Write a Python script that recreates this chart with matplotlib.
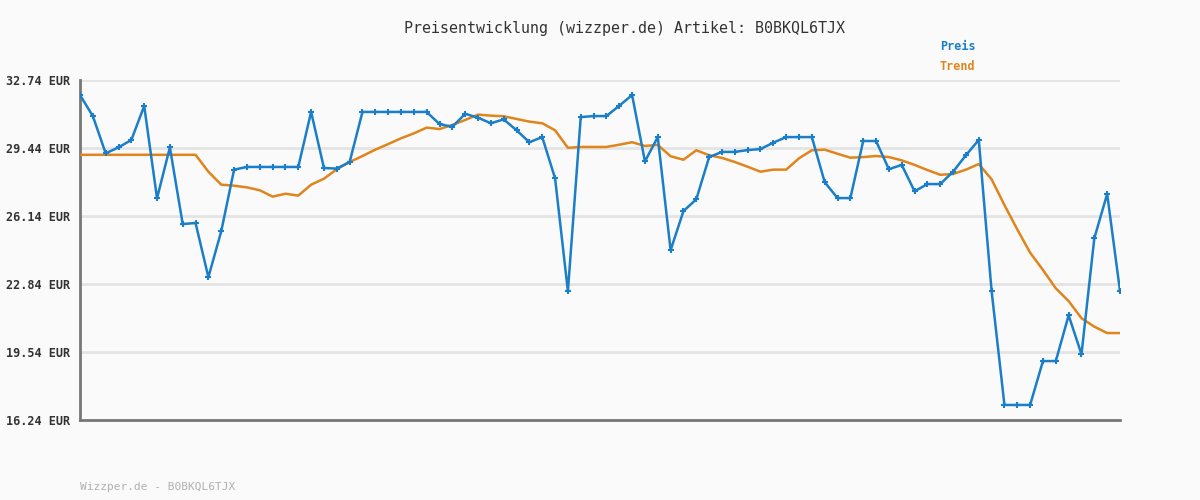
import matplotlib
matplotlib.use('Agg')
import numpy as np
import matplotlib.pyplot as plt

# price history (EUR), one value per sample
preis = [32.01, 30.99, 29.18, 29.47, 29.83, 31.48, 27.00, 29.47, 25.75, 25.80,
         23.17, 25.40, 28.39, 28.52, 28.52, 28.52, 28.52, 28.52, 31.19, 28.47,
         28.44, 28.76, 31.19, 31.19, 31.19, 31.19, 31.19, 31.19, 30.60, 30.47,
         31.10, 30.91, 30.64, 30.83, 30.30, 29.72, 29.97, 27.97, 22.49, 30.94,
         30.99, 30.99, 31.49, 32.01, 28.79, 29.97, 24.48, 26.38, 26.95, 29.00,
         29.25, 29.25, 29.34, 29.39, 29.70, 29.97, 29.97, 29.97, 27.78, 27.01,
         27.01, 29.78, 29.78, 28.41, 28.62, 27.34, 27.69, 27.69, 28.29, 29.09,
         29.83, 22.50, 16.97, 16.97, 16.97, 19.10, 19.10, 21.32, 19.43, 25.06,
         27.21, 22.50]

trend = [29.11, 29.11, 29.11, 29.11, 29.11, 29.11, 29.11, 29.11, 29.11, 29.11,
         28.29, 27.66, 27.61, 27.53, 27.39, 27.08, 27.22, 27.13, 27.66, 27.95,
         28.41, 28.76, 29.05, 29.36, 29.63, 29.91, 30.15, 30.43, 30.36, 30.56,
         30.80, 31.06, 31.01, 30.98, 30.85, 30.72, 30.64, 30.30, 29.45, 29.49,
         29.49, 29.49, 29.60, 29.72, 29.54, 29.59, 29.04, 28.87, 29.33, 29.09,
         28.96, 28.76, 28.53, 28.29, 28.39, 28.39, 28.94, 29.33, 29.36, 29.16,
         28.97, 29.00, 29.05, 29.00, 28.84, 28.62, 28.37, 28.14, 28.18, 28.39,
         28.66, 27.92, 26.67, 25.49, 24.36, 23.52, 22.63, 22.01, 21.18, 20.77,
         20.46, 20.46]

y_ticks = [16.24, 19.54, 22.84, 26.14, 29.44, 32.74]
y_labels = ['16.24 EUR', '19.54 EUR', '22.84 EUR', '26.14 EUR', '29.44 EUR', '32.74 EUR']

artikel = 'B0BKQL6TJX'
blau = '#1a7ec8'
orange = '#e0841c'
bg = '#fafafa'

fig = plt.figure(figsize=(12, 5), dpi=100, facecolor=bg)
ax = fig.add_axes([80 / 1200, 80 / 500, 1040 / 1200, 340 / 500], facecolor=bg)

x = np.arange(len(preis))
ax.plot(x, trend, color=orange, lw=1.8, zorder=3)
ax.plot(x, preis, color=blau, lw=1.8, marker='+', markersize=4, markeredgewidth=1.5, zorder=4)

ax.set_xlim(0, len(preis) - 1)
ax.set_ylim(y_ticks[0], y_ticks[-1])
ax.set_yticks(y_ticks)
ax.set_yticklabels(y_labels, family='DejaVu Sans Mono', fontweight='bold', fontsize=8.5, color='#333333')
ax.set_xticks([])
ax.tick_params(axis='y', length=0, pad=7)
ax.grid(axis='y', color='#e4e4e4', lw=2, zorder=0)

for s in ['top', 'right']:
    ax.spines[s].set_visible(False)
for s in ['left', 'bottom']:
    ax.spines[s].set_color('#777777')
    ax.spines[s].set_linewidth(2)

fig.text(624 / 1200, 1 - 28 / 500, 'Preisentwicklung (wizzper.de) Artikel: ' + artikel,
         ha='center', va='center', family='DejaVu Sans Mono', fontsize=10.8, color='#333333')
fig.text(940 / 1200, 1 - 47 / 500, 'Preis', ha='left', va='center', family='DejaVu Sans Mono',
         fontweight='bold', fontsize=8.5, color=blau)
fig.text(940 / 1200, 1 - 67 / 500, 'Trend', ha='left', va='center', family='DejaVu Sans Mono',
         fontweight='bold', fontsize=8.5, color=orange)
fig.text(80 / 1200, 1 - 487 / 500, 'Wizzper.de - ' + artikel, ha='left', va='center',
         family='DejaVu Sans Mono', fontsize=8, color='#b0b0b0')

fig.savefig('out.png', dpi=100, facecolor=bg)
